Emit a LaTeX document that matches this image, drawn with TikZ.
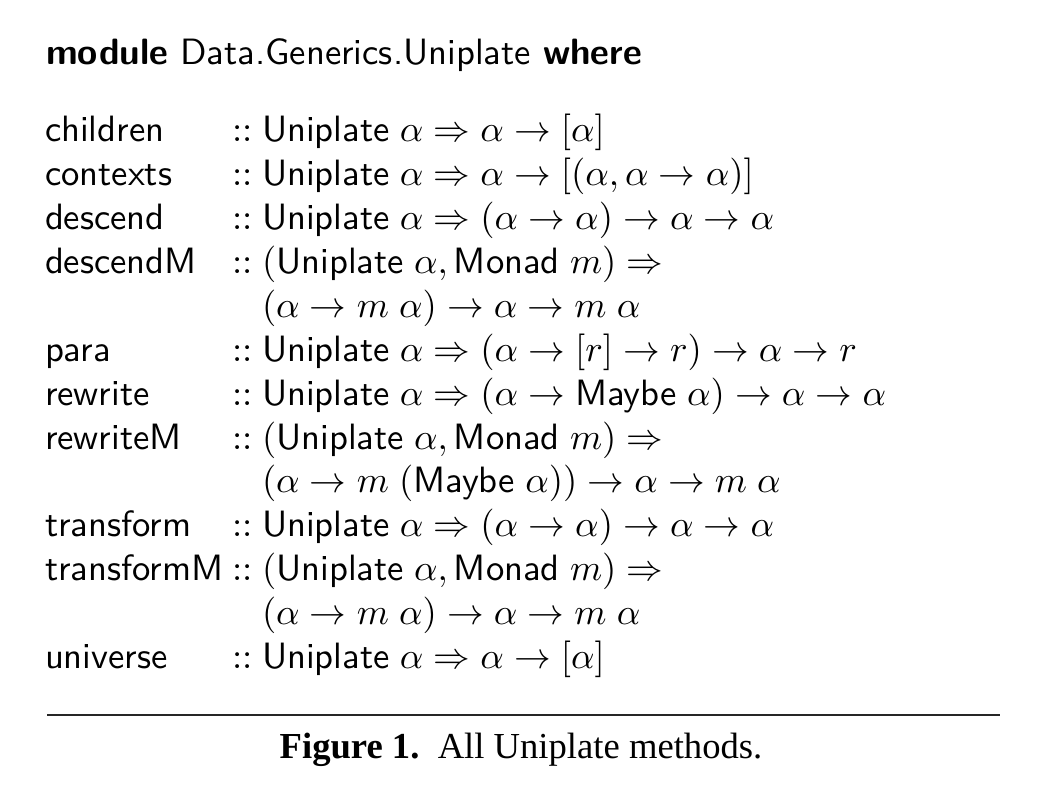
\documentclass[tikz,border=0pt]{standalone}
\usepackage{fontspec}
\newfontfamily\capfont{Liberation Serif}
\begin{document}
\begin{tikzpicture}[x=0.273pt,y=-0.273pt,
  txt/.style={anchor=base west,inner sep=0pt,outer sep=0pt,font=\fontsize{10}{12}\selectfont\sffamily},
  capt/.style={anchor=base,inner sep=0pt,font=\fontsize{10}{12}\selectfont\capfont}]
\useasboundingbox (0,0) rectangle (1050,788);
\def\cx{232}
\def\tx{262}
\node[txt] (mod) at (46,64) {\textbf{module} Data.Generics.Uniplate \textbf{where}};
% names
\foreach \nm/\k in {children/0,contexts/1,descend/2,descendM/3,para/5,rewrite/6,rewriteM/7,transform/9,transformM/10,universe/12}{
  \node[txt] (n-\nm) at (45,141.7+\k*43.9) {\nm};
  \node[txt] (c-\nm) at (\cx,141.7+\k*43.9) {$::$};
}
\node[txt] (t1) at (\tx,141.7+0*43.9) {$\textsf{Uniplate}\;\alpha \Rightarrow \alpha \to [\alpha]$};
\node[txt] (t2) at (\tx,141.7+1*43.9) {$\textsf{Uniplate}\;\alpha \Rightarrow \alpha \to [(\alpha,\alpha \to \alpha)]$};
\node[txt] (t3) at (\tx,141.7+2*43.9) {$\textsf{Uniplate}\;\alpha \Rightarrow (\alpha \to \alpha) \to \alpha \to \alpha$};
\node[txt] (t4) at (\tx,141.7+3*43.9) {$(\textsf{Uniplate}\;\alpha,\textsf{Monad}\;m) \Rightarrow$};
\node[txt] (t4b) at (\tx,141.7+4*43.9) {$(\alpha \to m\;\alpha) \to \alpha \to m\;\alpha$};
\node[txt] (t5) at (\tx,141.7+5*43.9) {$\textsf{Uniplate}\;\alpha \Rightarrow (\alpha \to [r] \to r) \to \alpha \to r$};
\node[txt] (t6) at (\tx,141.7+6*43.9) {$\textsf{Uniplate}\;\alpha \Rightarrow (\alpha \to \textsf{Maybe}\;\alpha) \to \alpha \to \alpha$};
\node[txt] (t7) at (\tx,141.7+7*43.9) {$(\textsf{Uniplate}\;\alpha,\textsf{Monad}\;m) \Rightarrow$};
\node[txt] (t7b) at (\tx,141.7+8*43.9) {$(\alpha \to m\;(\textsf{Maybe}\;\alpha)) \to \alpha \to m\;\alpha$};
\node[txt] (t8) at (\tx,141.7+9*43.9) {$\textsf{Uniplate}\;\alpha \Rightarrow (\alpha \to \alpha) \to \alpha \to \alpha$};
\node[txt] (t9) at (\tx,141.7+10*43.9) {$(\textsf{Uniplate}\;\alpha,\textsf{Monad}\;m) \Rightarrow$};
\node[txt] (t9b) at (\tx,141.7+11*43.9) {$(\alpha \to m\;\alpha) \to \alpha \to m\;\alpha$};
\node[txt] (t10) at (\tx,141.7+12*43.9) {$\textsf{Uniplate}\;\alpha \Rightarrow \alpha \to [\alpha]$};
\coordinate (rl) at (47,715);
\coordinate (rr) at (1000,715);
\draw[line width=0.5pt,black!85] (rl) -- (rr);
\node[capt] (cap) at (521,758) {\textbf{Figure 1.}\hspace{5pt}All Uniplate methods.};
\end{tikzpicture}
\end{document}
